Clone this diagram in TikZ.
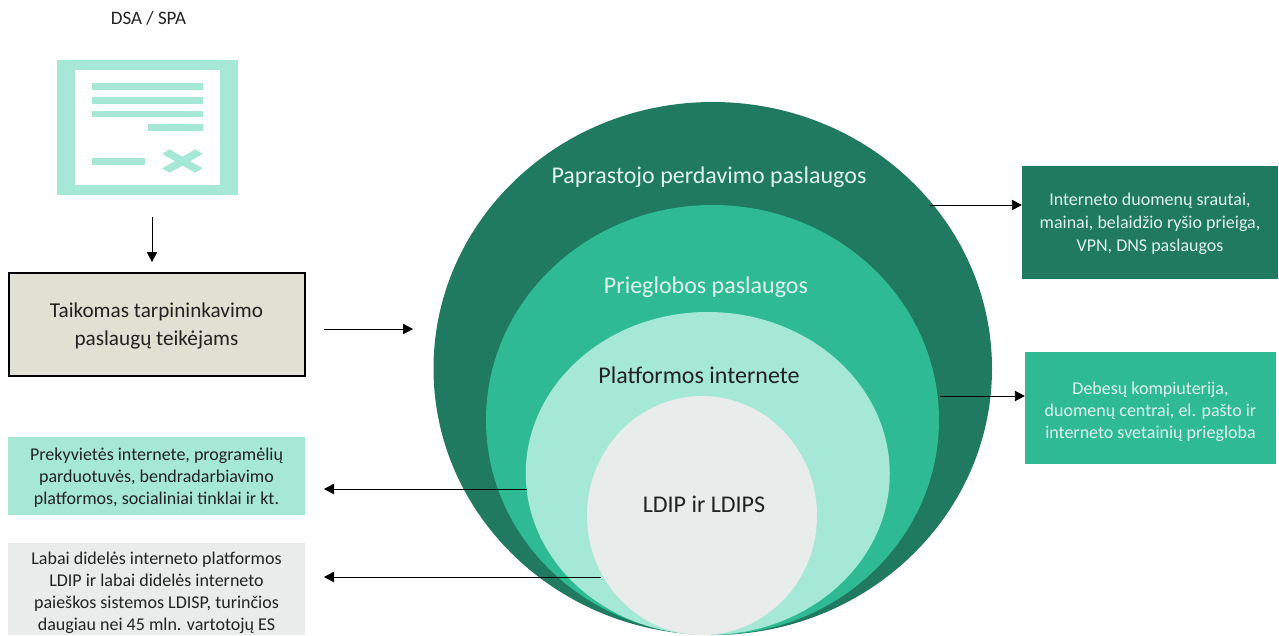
\documentclass[tikz,border=0pt]{standalone}
\usepackage{fontspec}
\setmainfont{Carlito}
\usetikzlibrary{arrows.meta,shapes.geometric}
\definecolor{cdark}{HTML}{1F7A60}
\definecolor{cmid}{HTML}{2EBB94}
\definecolor{clight}{HTML}{A6E8D6}
\definecolor{cgray}{HTML}{E8ECEB}
\definecolor{cbeige}{HTML}{E0E0D3}
\definecolor{ctext}{HTML}{222222}
\definecolor{cpale}{HTML}{E0F4EE}
\tikzset{
  x=1pt,y=-1pt,
  blob/.style={ellipse,draw=none,inner sep=0pt,minimum width=#1},
  infobox/.style={draw=none,inner sep=0pt,align=center,text=ctext,font=\fontsize{18}{22}\selectfont},
  biglabel/.style={inner sep=0pt,font=\fontsize{24}{26}\selectfont},
  conn/.style={draw=black,line width=0.9pt,-{Triangle[length=10pt,width=10.5pt]}},
  iconbar/.style={fill=clight,draw=none},
}
\begin{document}
\begin{tikzpicture}
\useasboundingbox (0,0) rectangle (1279,635);
\clip (0,0) rectangle (1279,635);
% title + icon
\node[inner sep=0pt,text=ctext,font=\fontsize{19}{22}\selectfont] (dsa) at (148.5,18) {DSA / SPA};
\fill[clight] (57,60) rectangle (238,195);
\fill[white] (75,70) rectangle (220,184.5);
\fill[iconbar] (92,83.3) rectangle (203,90);
\fill[iconbar] (92,97) rectangle (203,103.5);
\fill[iconbar] (92,110.5) rectangle (203,117);
\fill[iconbar] (147.5,124) rectangle (203,130.5);
\fill[iconbar] (92,158) rectangle (145,164.5);
\fill[iconbar] (169.3,149.3) -- (182.7,156.7) -- (195.3,149.3) -- (202.7,154) -- (190,161) -- (202.7,168.3) -- (195.3,172.7) -- (182.7,165.7) -- (169.3,172.7) -- (162,168.3) -- (175,161) -- (162,154) -- cycle;
% left boxes
\node[draw=black,line width=2pt,fill=cbeige,minimum width=296pt,minimum height=103pt,inner sep=0pt] (apply) at (156.5,324) {};
\node[inner sep=0pt,align=center,text=ctext,font=\fontsize{21.2}{28}\selectfont] (applytext) at (156.5,325.5) {Taikomas tarpininkavimo\\paslaugų teikėjams};
\node[infobox,fill=clight,minimum width=297pt,minimum height=78pt] (market) at (156.5,476) {};
\node[infobox] (markettext) at (156.5,478) {Prekyvietės internete, programėlių\\parduotuvės, bendradarbiavimo\\platformos, socialiniai tinklai ir kt.};
\node[infobox,fill=cgray,minimum width=297pt,minimum height=92pt] (vlop) at (156.5,589) {};
\node[infobox] (vloptext) at (156.5,593) {Labai didelės interneto platformos\\LDIP ir labai didelės interneto\\paieškos sistemos LDISP, turinčios\\daugiau nei 45 mln. vartotojų ES};
% right boxes
\node[infobox,fill=cdark,minimum width=256pt,minimum height=113pt] (transit) at (1150,222.5) {};
\node[infobox,text=cpale,font=\fontsize{18}{23}\selectfont] (transittext) at (1150,223.5) {Interneto duomenų srautai,\\mainai, belaidžio ryšio prieiga,\\VPN, DNS paslaugos};
\node[infobox,fill=cmid,minimum width=251pt,minimum height=112pt] (hosting) at (1150.5,408) {};
\node[infobox,text=cpale] (hostingtext) at (1150.5,411.5) {Debesų kompiuterija,\\duomenų centrai, el. pašto ir\\interneto svetainių priegloba};
% nested ellipses
\node[blob=558.5pt,fill=cdark,minimum height=533pt] (e1) at (712.75,368.5) {};
\node[blob=453pt,fill=cmid,minimum height=430pt] (e2) at (712.5,420) {};
\node[blob=364pt,fill=clight,minimum height=323pt] (e3) at (707.75,473.5) {};
\node[blob=230pt,fill=cgray,minimum height=239pt] (e4) at (702,515.5) {};
% labels
\node[biglabel,text=cpale] (l1) at (709,177) {Paprastojo perdavimo paslaugos};
\node[biglabel,text=cpale] (l2) at (706,287) {Prieglobos paslaugos};
\node[biglabel,text=ctext] (l3) at (699,375) {Platformos internete};
\node[biglabel,text=ctext] (l4) at (704,504) {LDIP ir LDIPS};
% connectors
\coordinate (a1s) at (152,217);
\coordinate (a1e) at (152,262);
\coordinate (a2s) at (324,329);
\coordinate (a2e) at (413,329);
\coordinate (a3s) at (930,205);
\coordinate (a4s) at (940,396);
\coordinate (a5s) at (527,489);
\coordinate (a5e) at (324,489);
\coordinate (a6s) at (601,577);
\coordinate (a6e) at (324,577);
\draw[conn] (a1s) -- (a1e);
\draw[conn] (a2s) -- (a2e);
\draw[conn] (a3s) -- (a3s -| transit.west);
\draw[conn] (a4s) -- (a4s -| hosting.west);
\draw[conn] (a5s) -- (a5e);
\draw[conn] (a6s) -- (a6e);
\end{tikzpicture}
\end{document}
